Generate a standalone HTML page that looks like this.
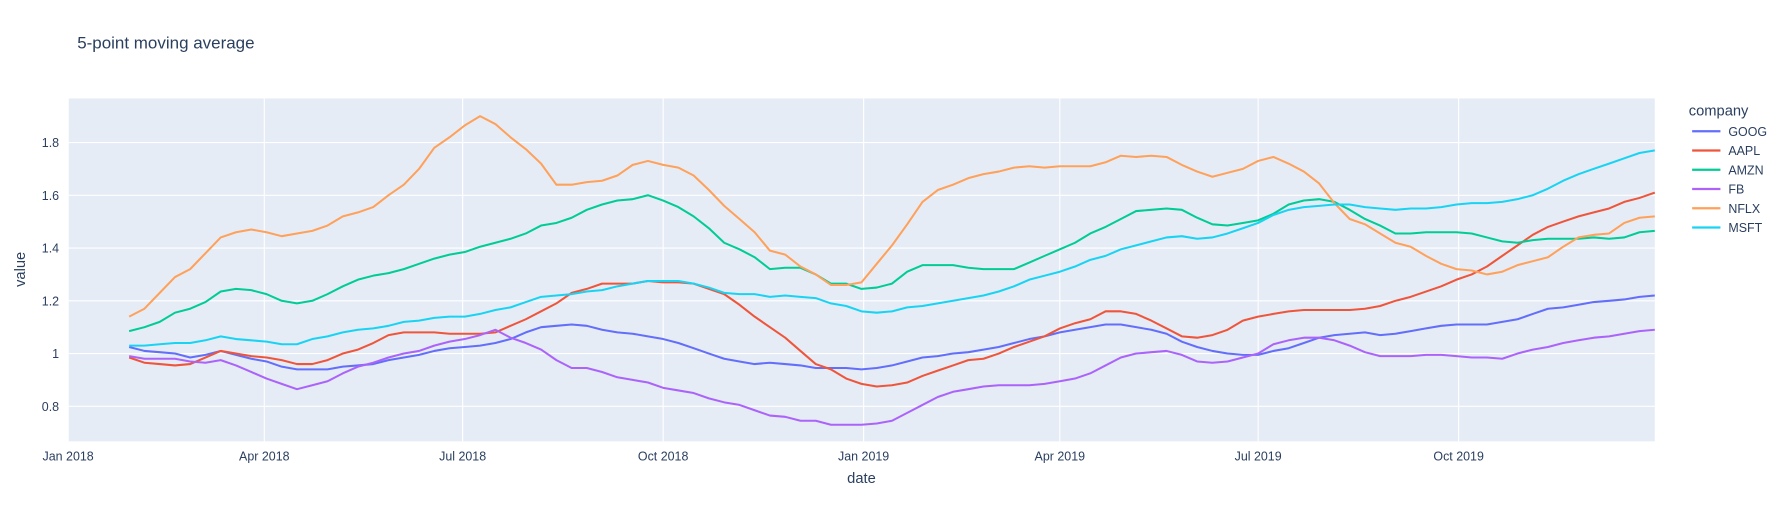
<!DOCTYPE html>
<html><head><meta charset="utf-8"><style>
body{margin:0;background:#fff;font-family:"Liberation Sans",Arial,sans-serif}
svg{display:block}
</style></head><body>
<svg id="chart" width="1775" height="507" viewBox="0 0 1568 448" xmlns="http://www.w3.org/2000/svg" font-family="Liberation Sans, Arial, sans-serif">
<text x="68" y="43" font-size="15" fill="#2a3f5f">5-point moving average</text>
<rect x="60" y="87" width="1402" height="303" fill="#e5ecf6"/>
<g id="grid"></g><g id="series"></g><g id="ticks"></g>
<text x="761" y="427" font-size="13" fill="#2a3f5f" text-anchor="middle">date</text>
<text transform="translate(22,238) rotate(-90)" font-size="13" fill="#2a3f5f" text-anchor="middle">value</text>
<text x="1492" y="102" font-size="13" fill="#2a3f5f">company</text>
<g id="legend"></g>
</svg>
<script>
const companies=["GOOG","AAPL","AMZN","FB","NFLX","MSFT"];
const colors=["#636efa","#EF553B","#00cc96","#ab63fa","#FFA15A","#19d3f3"];
const yTicks=[0.8,1,1.2,1.4,1.6,1.8];
const yTickLabels=["0.8","1","1.2","1.4","1.6","1.8"];
const xTickDates=["2018-01-01","2018-04-01","2018-07-01","2018-10-01","2019-01-01","2019-04-01","2019-07-01","2019-10-01"];
const xTickLabels=["Jan 2018","Apr 2018","Jul 2018","Oct 2018","Jan 2019","Apr 2019","Jul 2019","Oct 2019"];
const startDate="2018-01-29";
const GOOG=[1.025,1.01,1.005,1.0,0.985,0.995,1.01,0.995,0.98,0.97,0.95,0.94,0.94,0.94,0.95,0.955,0.96,0.975,0.985,0.995,1.01,1.02,1.025,1.03,1.04,1.055,1.08,1.1,1.105,1.11,1.105,1.09,1.08,1.075,1.065,1.055,1.04,1.02,1.0,0.98,0.97,0.96,0.965,0.96,0.955,0.945,0.945,0.945,0.94,0.945,0.955,0.97,0.985,0.99,1.0,1.005,1.015,1.025,1.04,1.055,1.065,1.08,1.09,1.1,1.11,1.11,1.1,1.09,1.075,1.045,1.025,1.01,1.0,0.995,0.995,1.01,1.02,1.04,1.06,1.07,1.075,1.08,1.07,1.075,1.085,1.095,1.105,1.11,1.11,1.11,1.12,1.13,1.15,1.17,1.175,1.185,1.195,1.2,1.205,1.215,1.22];
const AAPL=[0.985,0.965,0.96,0.955,0.96,0.985,1.01,1.0,0.99,0.985,0.975,0.96,0.96,0.975,1.0,1.015,1.04,1.07,1.08,1.08,1.08,1.075,1.075,1.075,1.08,1.105,1.13,1.16,1.19,1.23,1.245,1.265,1.265,1.265,1.275,1.27,1.27,1.265,1.245,1.225,1.185,1.14,1.1,1.06,1.01,0.96,0.94,0.905,0.885,0.875,0.88,0.89,0.915,0.935,0.955,0.975,0.98,1.0,1.025,1.045,1.065,1.095,1.115,1.13,1.16,1.16,1.15,1.125,1.095,1.065,1.06,1.07,1.09,1.125,1.14,1.15,1.16,1.165,1.165,1.165,1.165,1.17,1.18,1.2,1.215,1.235,1.255,1.28,1.3,1.33,1.37,1.41,1.45,1.48,1.5,1.52,1.535,1.55,1.575,1.59,1.61];
const AMZN=[1.085,1.1,1.12,1.155,1.17,1.195,1.235,1.245,1.24,1.225,1.2,1.19,1.2,1.225,1.255,1.28,1.295,1.305,1.32,1.34,1.36,1.375,1.385,1.405,1.42,1.435,1.455,1.485,1.495,1.515,1.545,1.565,1.58,1.585,1.6,1.58,1.555,1.52,1.475,1.42,1.395,1.365,1.32,1.325,1.325,1.3,1.265,1.265,1.245,1.25,1.265,1.31,1.335,1.335,1.335,1.325,1.32,1.32,1.32,1.345,1.37,1.395,1.42,1.455,1.48,1.51,1.54,1.545,1.55,1.545,1.515,1.49,1.485,1.495,1.505,1.53,1.565,1.58,1.585,1.575,1.545,1.51,1.485,1.455,1.455,1.46,1.46,1.46,1.455,1.44,1.425,1.42,1.43,1.435,1.435,1.435,1.44,1.435,1.44,1.46,1.465];
const FB=[0.99,0.98,0.98,0.98,0.97,0.965,0.975,0.955,0.93,0.905,0.885,0.865,0.88,0.895,0.925,0.95,0.965,0.985,1.0,1.01,1.03,1.045,1.055,1.07,1.09,1.06,1.04,1.015,0.975,0.945,0.945,0.93,0.91,0.9,0.89,0.87,0.86,0.85,0.83,0.815,0.805,0.785,0.765,0.76,0.745,0.745,0.73,0.73,0.73,0.735,0.745,0.775,0.805,0.835,0.855,0.865,0.875,0.88,0.88,0.88,0.885,0.895,0.905,0.925,0.955,0.985,1.0,1.005,1.01,0.995,0.97,0.965,0.97,0.985,1.0,1.035,1.05,1.06,1.06,1.05,1.03,1.005,0.99,0.99,0.99,0.995,0.995,0.99,0.985,0.985,0.98,1.0,1.015,1.025,1.04,1.05,1.06,1.065,1.075,1.085,1.09];
const NFLX=[1.14,1.17,1.23,1.29,1.32,1.38,1.44,1.46,1.47,1.46,1.445,1.455,1.465,1.485,1.52,1.535,1.555,1.6,1.64,1.7,1.78,1.82,1.865,1.9,1.87,1.82,1.775,1.72,1.64,1.64,1.65,1.655,1.675,1.715,1.73,1.715,1.705,1.675,1.62,1.56,1.51,1.46,1.39,1.375,1.33,1.3,1.26,1.26,1.27,1.34,1.41,1.49,1.575,1.62,1.64,1.665,1.68,1.69,1.705,1.71,1.705,1.71,1.71,1.71,1.725,1.75,1.745,1.75,1.745,1.715,1.69,1.67,1.685,1.7,1.73,1.745,1.72,1.69,1.645,1.57,1.51,1.49,1.455,1.42,1.405,1.37,1.34,1.32,1.315,1.3,1.31,1.335,1.35,1.365,1.405,1.44,1.45,1.455,1.495,1.515,1.52];
const MSFT=[1.03,1.03,1.035,1.04,1.04,1.05,1.065,1.055,1.05,1.045,1.035,1.035,1.055,1.065,1.08,1.09,1.095,1.105,1.12,1.125,1.135,1.14,1.14,1.15,1.165,1.175,1.195,1.215,1.22,1.225,1.235,1.24,1.255,1.265,1.275,1.275,1.275,1.265,1.25,1.23,1.225,1.225,1.215,1.22,1.215,1.21,1.19,1.18,1.16,1.155,1.16,1.175,1.18,1.19,1.2,1.21,1.22,1.235,1.255,1.28,1.295,1.31,1.33,1.355,1.37,1.395,1.41,1.425,1.44,1.445,1.435,1.44,1.455,1.475,1.495,1.525,1.545,1.555,1.56,1.565,1.565,1.555,1.55,1.545,1.55,1.55,1.555,1.565,1.57,1.57,1.575,1.585,1.6,1.625,1.655,1.68,1.7,1.72,1.74,1.76,1.77];
const seriesData=[GOOG,AAPL,AMZN,FB,NFLX,MSFT];

const NS="http://www.w3.org/2000/svg";
const X0=60,X1=1462,Y0=87,Y1=390;
const d0=Date.parse("2018-01-01"),d1=Date.parse("2019-12-30");
const yMin=0.667,yMax=1.967;
function xScale(t){return X0+(t-d0)/(d1-d0)*(X1-X0);}
function yScale(v){return Y1-(v-yMin)/(yMax-yMin)*(Y1-Y0);}
function mk(tag,attrs,parent){const e=document.createElementNS(NS,tag);for(const k in attrs)e.setAttribute(k,attrs[k]);parent.appendChild(e);return e;}
const grid=document.getElementById('grid'),ticks=document.getElementById('ticks'),ser=document.getElementById('series'),leg=document.getElementById('legend');
yTicks.forEach((v,i)=>{const y=yScale(v);
 const l=mk('line',{x1:X0,x2:X1,y1:y,y2:y,stroke:'#fff','stroke-width':1},grid);
 
 
 const t=mk('text',{x:52,y:y+4,'font-size':11,fill:'#2a3f5f','text-anchor':'end'},ticks);t.textContent=yTickLabels[i];
 
 });
xTickDates.forEach((d,i)=>{const x=xScale(Date.parse(d));
 const l=mk('line',{x1:x,x2:x,y1:Y0,y2:Y1,stroke:'#fff','stroke-width':1},grid);
 
 
 const t=mk('text',{x:x,y:407,'font-size':11,fill:'#2a3f5f','text-anchor':'middle'},ticks);t.textContent=xTickLabels[i];
 
 });
const s0=Date.parse(startDate),wk=7*864e5;
seriesData.forEach((arr,k)=>{
 const pts=arr.map((v,i)=>xScale(s0+i*wk).toFixed(1)+','+yScale(v).toFixed(1)).join(' ');
 const p=mk('polyline',{points:pts,fill:'none',stroke:colors[k],'stroke-width':1.8,'stroke-linejoin':'round'},ser);
 
 
 const ly=116+k*17;
 const g=mk('g',{},leg);
 
 
 mk('line',{x1:1495,x2:1520,y1:ly,y2:ly,stroke:colors[k],'stroke-width':2},g);
 const t=mk('text',{x:1527,y:ly+4,'font-size':11,fill:'#2a3f5f'},g);t.textContent=companies[k];
});
</script>
</body></html>
